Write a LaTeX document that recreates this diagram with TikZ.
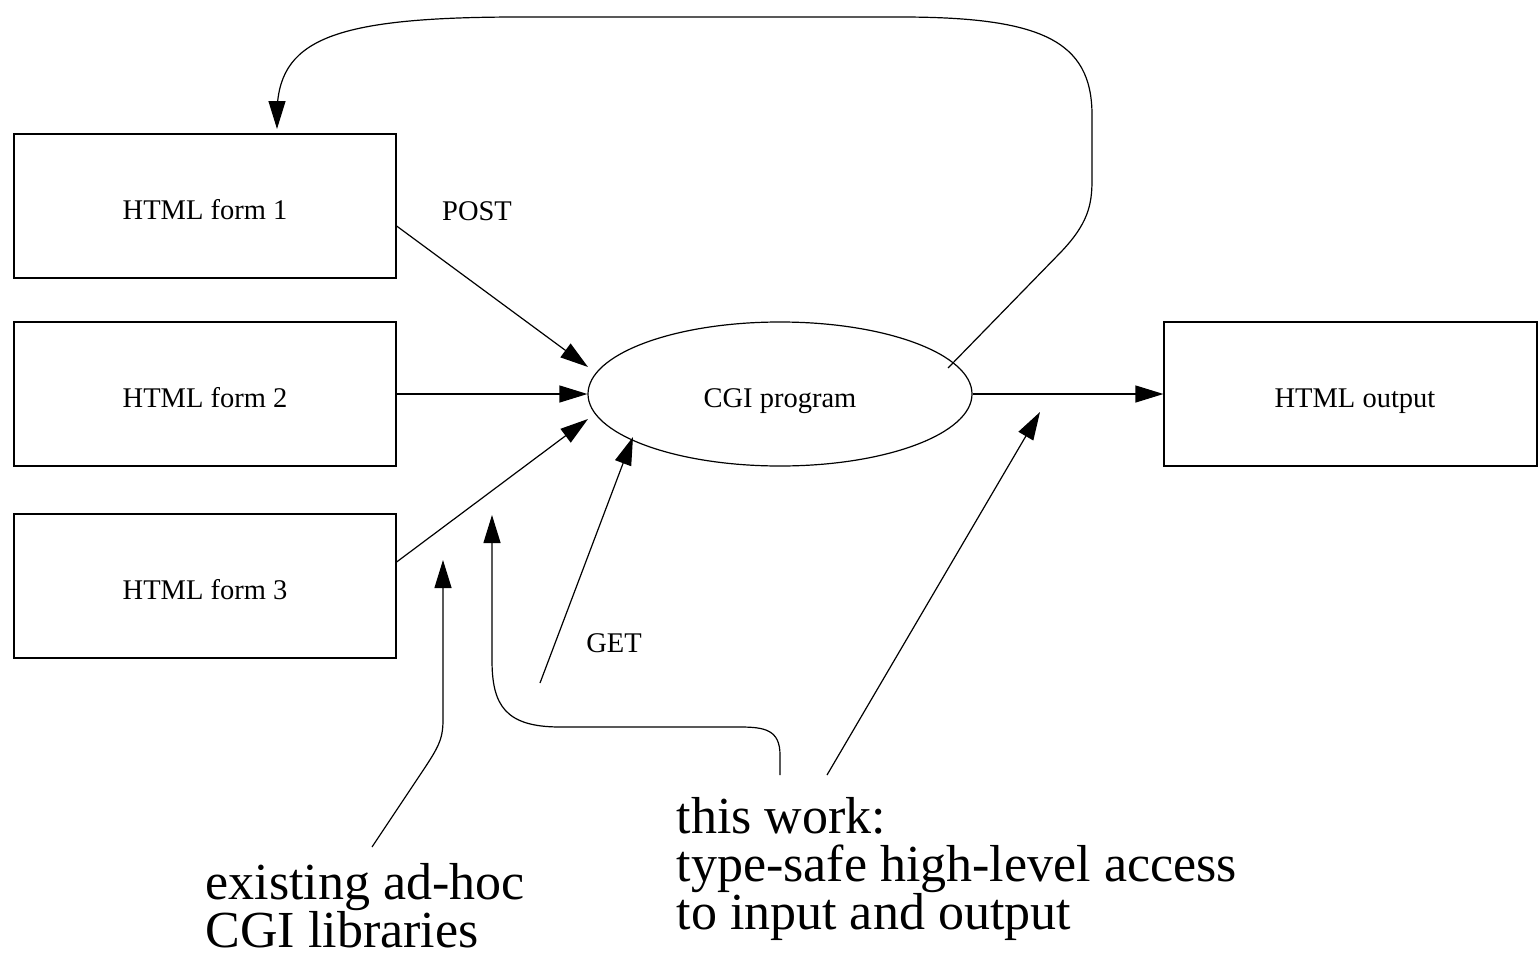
\documentclass[tikz,border=0pt]{standalone}
\usepackage{fontspec}
\setmainfont{Liberation Serif}
\usetikzlibrary{arrows.meta,shapes.geometric}
\begin{document}
\begin{tikzpicture}[x=1pt,y=-1pt,line width=1.2pt,
  txt/.style={font=\fontsize{28.5}{34}\selectfont,text height=27pt,text depth=0pt},
  box/.style={draw,txt,minimum width=382pt,minimum height=144pt,inner sep=0pt},
  lbl/.style={font=\fontsize{28.5}{34}\selectfont,inner sep=0pt,anchor=base},
  big/.style={font=\fontsize{52}{48}\selectfont,inner sep=0pt,align=left,anchor=base west},
  arr/.style={-{Triangle[length=28pt,width=17pt]}},
  ]
\useasboundingbox (0,0) rectangle (1538,958);
% boxes
\node[box] (f1) at (205,206) {HTML form 1};
\node[box] (f2) at (205,394) {HTML form 2};
\node[box] (f3) at (205,586) {HTML form 3};
\node[box,minimum width=373pt] (out) at (1350.5,394) {\hspace*{9pt}HTML output};
\node[draw,ellipse,txt,minimum width=384pt,minimum height=144pt,inner sep=0pt] (cgi) at (780,394) {CGI program};
% labels
\node[lbl] (post) at (477,220) {POST};
\node[lbl] (get) at (614,652) {GET};
\node[big] (exist) at (205,947) {existing ad-hoc\\CGI libraries};
\node[big] (work) at (676,929) {this work:\\type-safe high-level access\\to input and output};
% coordinates
\coordinate (t1) at (588,367);
\coordinate (t3) at (588,419);
\coordinate (g0) at (540,683);
\coordinate (g1) at (633,437);
\coordinate (fb0) at (948,368);
\coordinate (fb1) at (277,129);
\coordinate (ex0) at (372,847);
\coordinate (ex1) at (443,560);
\coordinate (w0) at (780,775);
\coordinate (w1) at (492,515);
\coordinate (w2) at (827,775);
\coordinate (w3) at (1040,412);
% connectors
\draw[arr] ([yshift=-20pt]f1.east) -- (t1);
\draw[arr] (f2.east) -- (cgi.west);
\draw[arr] ([yshift=24pt]f3.east) -- (t3);
\draw[arr] (g0) -- (g1);
\draw[arr] (cgi.east) -- (out.west);
\draw[arr] (fb0) -- (1060,253) .. controls (1088,224) and (1092,205) .. (1092,180)
  -- (1092,115) .. controls (1092,40) and (1040,17) .. (900,17)
  -- (520,17) .. controls (330,17) and (277,40) .. (277,115) -- (fb1);
\draw[arr] (ex0) -- (420,775) .. controls (438,748) and (443,740) .. (443,720) -- (ex1);
\draw[arr] (w0) -- (780,755) .. controls (780,730) and (765,727) .. (740,727)
  -- (560,727) .. controls (505,727) and (492,705) .. (492,660) -- (w1);
\draw[arr] (w2) -- (w3);
\end{tikzpicture}
\end{document}
